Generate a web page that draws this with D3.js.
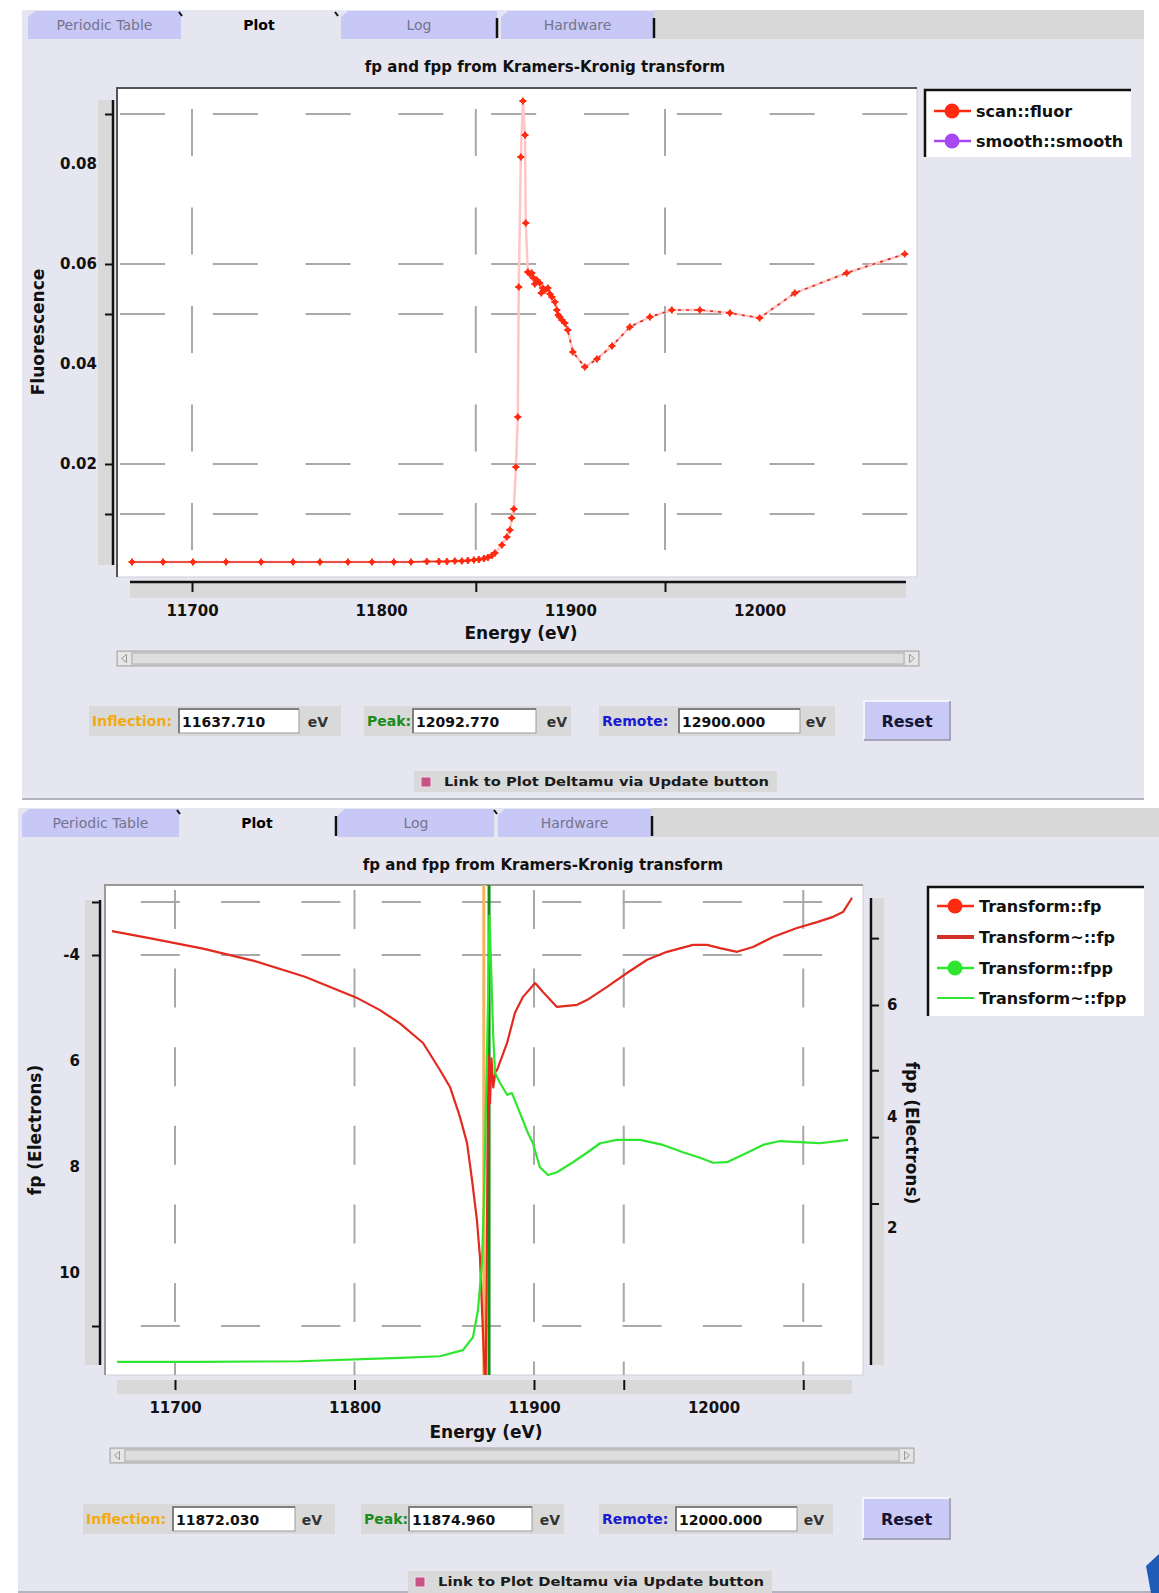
<!DOCTYPE html>
<html><head><meta charset="utf-8">
<script src="https://cdn.jsdelivr.net/npm/d3@7"></script>
<style>
html,body{margin:0;padding:0;background:#fff;}
svg{display:block;}
</style></head><body>
<svg id="c" width="1159" height="1593"></svg>
<script>
// ---------- shared text ----------
const tabNames = ["Periodic Table", "Plot", "Log", "Hardware"];
const plotTitle = "fp and fpp from Kramers-Kronig transform";
const energyTitle = "Energy (eV)";
const checkboxText = "Link to Plot Deltamu via Update button";

// ---------- upper panel: scan::fluor ----------
const scanEnergy = [11668.3, 11684.7, 11700.5, 11718, 11736.5, 11753.4, 11767.6, 11782.4, 11795.1, 11806.7,
  11815.7, 11824.1, 11830.5, 11834.7, 11838.9, 11842.6, 11845.8, 11849, 11851.6, 11854.3,
  11856.4, 11858.5, 11860.1, 11863.8, 11866.4, 11868.0, 11869.0, 11870.1, 11871.2, 11872.2,
  11872.7, 11873.8, 11874.9, 11876.0, 11876.4, 11877.5, 11878.6, 11879.6, 11880.5, 11881.2,
  11882.3, 11883.8, 11884.6, 11885.4, 11886.7, 11888.1, 11889.2, 11890.2, 11891.8, 11892.8,
  11893.6, 11894.4, 11895.5, 11897.0, 11898.6, 11901.3, 11907.6, 11914, 11922, 11931.4,
  11942, 11953.6, 11968.4, 11984.3, 12000, 12018.6, 12046, 12076.7];
const scanFluor = [0.0004, 0.0004, 0.0004, 0.0004, 0.0004, 0.0004, 0.0004, 0.0004, 0.0004, 0.0004,
  0.0004, 0.0005, 0.0005, 0.0005, 0.0006, 0.0006, 0.0007, 0.0008, 0.0009, 0.0011,
  0.0013, 0.0017, 0.0022, 0.0038, 0.0054, 0.0068, 0.0092, 0.0110, 0.0194, 0.0294,
  0.0554, 0.0814, 0.0926, 0.0858, 0.0682, 0.0584, 0.0580, 0.0582, 0.0572, 0.0560,
  0.0568, 0.0562, 0.0542, 0.0552, 0.0548, 0.0552, 0.0540, 0.0534, 0.0524, 0.0508,
  0.0498, 0.0494, 0.0488, 0.0482, 0.0468, 0.0424, 0.0394, 0.0410, 0.0436, 0.0474,
  0.0494, 0.0508, 0.0508, 0.0502, 0.0492, 0.0542, 0.0582, 0.0620];
const fluorTickValues = [0.09, 0.06, 0.05, 0.02, 0.01];
const fluorLabelValues = [0.08, 0.06, 0.04, 0.02];
const upperEnergyTicks = [11700, 11850, 11950];
const energyLabelValues = [11700, 11800, 11900, 12000];
const upperLegend = ["scan::fluor", "smooth::smooth"];
const upperFields = ["11637.710", "12092.770", "12900.000"];

// ---------- lower panel: Kramers-Kronig transform ----------
const fpEnergy = [11664.9, 11687.2, 11715.6, 11744.0, 11772.4, 11800.8, 11814.2, 11825.3, 11838.2, 11847.6,
  11853.2, 11858.8, 11862.7, 11865.5, 11868.2, 11869.9, 11871.0, 11872.0, 11873.0, 11873.6,
  11874.2, 11874.8, 11875.5, 11876.3, 11877.3, 11878.5, 11879.4, 11885.0, 11889.4, 11893.9,
  11900.6, 11905.0, 11912.8, 11924.0, 11929.5, 11940.7, 11951.8, 11963.0, 11974.1, 11988.6,
  11996.4, 12003.6, 12013.1, 12022.0, 12033.1, 12046.5, 12057.7, 12066.6, 12072.1, 12077.2];
const fpValues = [-3.55, -3.69, -3.88, -4.11, -4.41, -4.80, -5.04, -5.29, -5.66, -6.17,
  -6.49, -7.06, -7.55, -8.25, -9.00, -9.70, -10.64, -11.5, -12.3, -10.2,
  -7.2, -5.9, -6.8, -5.95, -6.5, -6.2, -6.17, -5.66, -5.09, -4.79,
  -4.53, -4.70, -4.98, -4.94, -4.85, -4.60, -4.34, -4.09, -3.94, -3.81,
  -3.81, -3.87, -3.94, -3.85, -3.66, -3.49, -3.38, -3.28, -3.19, -2.92];
const fppEnergy = [11667.7, 11713.9, 11769.6, 11825.3, 11847.6, 11860.4, 11866.0, 11868.8, 11871.0, 11872.1,
  11873.3, 11874.4, 11875.2, 11876.0, 11877.2, 11878.3, 11881.1, 11885.0, 11887.7, 11892.2,
  11896.7, 11899.4, 11903.3, 11907.8, 11912.8, 11921.7, 11929.5, 11936.8, 11946.2, 11959.1,
  11971.9, 11983.0, 11992.5, 11999.7, 12007.5, 12018.7, 12027.6, 12037.0, 12048.2, 12059.3, 12074.9];
const fppValues = [-0.40, -0.40, -0.39, -0.33, -0.30, -0.19, 0.04, 0.53, 1.37, 2.50,
  4.30, 6.09, 7.6, 6.8, 5.50, 4.78, 4.60, 4.39, 4.42, 4.06,
  3.70, 3.52, 3.09, 2.95, 3.00, 3.18, 3.35, 3.52, 3.58, 3.58,
  3.49, 3.36, 3.26, 3.17, 3.18, 3.35, 3.49, 3.56, 3.54, 3.52, 3.58];
const fpTickValues = [-3, -4, -11];
const fpLabelValues = [-4, -6, -8, -10];
const fpLabelText = ["-4", "6", "8", "10"];
const fppTickValues = [7.2, 6, 4.83, 3.63, 2.44];
const fppLabelValues = [6, 4, 2];
const lowerEnergyTicks = [11700, 11800, 11900, 11950, 12050];
const lowerLegend = ["Transform::fp", "Transform~::fp", "Transform::fpp", "Transform~::fpp"];
const lowerFields = ["11872.030", "11874.960", "12000.000"];
const lowerMarkers = [11872.03, 11874.96];   // inflection, peak

// ---------- drawing ----------
const FONT = '"DejaVu Sans", "Liberation Sans", sans-serif';
const COL = { panel: "#e6e6f0", tab: "#c8c8f6", strip: "#d9d9d9", tabText: "#74748e",
  red: "#ff2a10", line: "#e22a1e", green: "#2ee62e", purple: "#a648f2" };
const svg = d3.select("#c");

function txt(g, x, y, s, o) {
  o = o || {};
  const t = g.append("text").attr("x", x).attr("y", y).text(s)
    .attr("font-family", FONT).attr("font-size", o.size || 14)
    .attr("font-weight", o.weight || "bold").attr("fill", o.fill || "#111")
    .attr("text-anchor", o.anchor || "start");
  if (o.len) t.attr("textLength", o.len).attr("lengthAdjust", "spacingAndGlyphs");
  if (o.rot) t.attr("transform", `rotate(${o.rot},${x},${y})`).attr("dominant-baseline", "central");
  return t;
}

function panelFrame(x0, x1, y0, y1, tabs, seps, marks) {
  const g = svg.append("g");
  g.append("rect").attr("x", x0).attr("y", y0).attr("width", x1 - x0).attr("height", y1 - y0).attr("fill", COL.panel);
  const tabBottom = y0 + 29;
  g.append("rect").attr("x", tabs[3][1]).attr("y", y0).attr("width", x1 - tabs[3][1]).attr("height", 29).attr("fill", "#d8d8d8");
  tabs.forEach((t, i) => {
    const sel = i === 1;
    g.append("path")
      .attr("d", `M${t[0]},${tabBottom}V${y0 + 7}L${t[0] + 7},${y0 + 1}H${t[1]}V${tabBottom}Z`)
      .attr("fill", sel ? COL.panel : COL.tab);
    txt(g, (t[0] + t[1]) / 2, y0 + 20, tabNames[i], {
      size: 14, weight: sel ? "bold" : "normal", fill: sel ? "#000" : COL.tabText, anchor: "middle" });
  });
  seps.forEach(x => g.append("line").attr("x1", x).attr("x2", x).attr("y1", y0 + 8).attr("y2", tabBottom - 1)
    .attr("stroke", "#111").attr("stroke-width", 2.5));
  marks.forEach(x => g.append("line").attr("x1", x).attr("x2", x + 3).attr("y1", y0 + 2).attr("y2", y0 + 6)
    .attr("stroke", "#111").attr("stroke-width", 2));
  g.append("line").attr("x1", x0).attr("x2", x1).attr("y1", y1 - 1).attr("y2", y1 - 1).attr("stroke", "#b4b4c0").attr("stroke-width", 2);
  return g;
}

function scrollbar(x0, x1, y0) {
  const g = svg.append("g");
  g.append("rect").attr("x", x0).attr("y", y0).attr("width", x1 - x0).attr("height", 15)
    .attr("fill", "#d2d2d2").attr("stroke", "#a4a4a4");
  g.append("rect").attr("x", x0 + 15).attr("y", y0 + 2).attr("width", x1 - x0 - 30).attr("height", 11)
    .attr("fill", "#dedede").attr("stroke", "#b0b0b0");
  [[x0 + 1, 1], [x1 - 14, -1]].forEach(([bx, dir]) => {
    g.append("rect").attr("x", bx).attr("y", y0 + 1).attr("width", 13).attr("height", 13).attr("fill", "#e6e6e6");
    const cx = bx + 6.5, cy = y0 + 7.5;
    g.append("path").attr("d", `M${cx - 3 * dir},${cy}L${cx + 2 * dir},${cy - 4}V${cy + 4}Z`)
      .attr("fill", "none").attr("stroke", "#9a9a9a");
  });
}

function controls(yc, boxes, reset, chk, values) {
  const g = svg.append("g");
  const labels = [["Inflection:", "#f2aa10"], ["Peak:", "#1b8c1b"], ["Remote:", "#1a1ad2"]];
  boxes.forEach((b, i) => {
    g.append("rect").attr("x", b[0]).attr("y", yc - 15).attr("width", b[1] - b[0]).attr("height", 30).attr("fill", "#d9d9d9");
    txt(g, b[0] + 3, yc + 5, labels[i][0], { size: 14, fill: labels[i][1] });
    g.append("rect").attr("x", b[2]).attr("y", yc - 12).attr("width", b[3] - b[2]).attr("height", 24)
      .attr("fill", "#fff").attr("stroke", "#9c9c9c");
    g.append("path").attr("d", `M${b[2]},${yc + 12}V${yc - 12}H${b[3]}`).attr("fill", "none").attr("stroke", "#6a6a6a").attr("stroke-width", 1.5);
    txt(g, b[2] + 3, yc + 6, values[i], { size: 14, fill: "#111" });
    txt(g, b[4], yc + 6, "eV", { size: 14, fill: "#333", anchor: "middle" });
  });
  g.append("rect").attr("x", reset[0]).attr("y", reset[2]).attr("width", reset[1] - reset[0]).attr("height", reset[3] - reset[2])
    .attr("fill", "#c9c9f5").attr("stroke", "#f4f4ff").attr("stroke-width", 2);
  g.append("path").attr("d", `M${reset[0]},${reset[3]}H${reset[1]}V${reset[2]}`).attr("fill", "none").attr("stroke", "#8a8aa0").attr("stroke-width", 1.5);
  txt(g, (reset[0] + reset[1]) / 2, (reset[2] + reset[3]) / 2 + 6, "Reset", { size: 16, fill: "#141438", anchor: "middle" });
  g.append("rect").attr("x", chk[0]).attr("y", chk[2]).attr("width", chk[1] - chk[0]).attr("height", chk[3] - chk[2]).attr("fill", "#d9d9d9");
  g.append("rect").attr("x", chk[0] + 7).attr("y", chk[2] + 6).attr("width", 10).attr("height", 10)
    .attr("fill", "#c65286").attr("stroke", "#f0e0ea");
  txt(g, chk[0] + 30, chk[2] + 15, checkboxText, { size: 13, fill: "#1a1a1a", len: chk[1] - chk[0] - 38 });
}

function legend(x0, x1, y0, y1, entries) {
  const g = svg.append("g");
  g.append("rect").attr("x", x0).attr("y", y0).attr("width", x1 - x0).attr("height", y1 - y0).attr("fill", "#fff");
  g.append("path").attr("d", `M${x0},${y1}V${y0}H${x1}`).attr("fill", "none").attr("stroke", "#111").attr("stroke-width", 2.5);
  entries.forEach(e => {
    g.append("line").attr("x1", x0 + 9).attr("x2", x0 + 46).attr("y1", e.y).attr("y2", e.y)
      .attr("stroke", e.color).attr("stroke-width", e.w || 2.5);
    if (e.dot) g.append("circle").attr("cx", x0 + 27).attr("cy", e.y).attr("r", 7.5).attr("fill", e.color);
    txt(g, x0 + 51, e.y + 6, e.label, { size: 16, fill: "#111" });
  });
}

function styleAxis(sel, size) {
  sel.select(".domain").remove();
  sel.selectAll(".tick line").attr("stroke", "#111").attr("stroke-width", 2);
  sel.selectAll(".tick text").attr("font-family", FONT).attr("font-size", size || 15)
    .attr("font-weight", "bold").attr("fill", "#111");
}

// ======================= upper panel =======================
panelFrame(22, 1144, 10, 800, [[28, 181], [181, 337], [341, 497], [501, 654]], [497, 654], [179, 335]);
txt(svg, 545, 72, plotTitle, { size: 15, anchor: "middle" });

const xU = d3.scaleLinear().domain([11700, 11950]).range([192, 665]);
const yU = d3.scaleLinear().domain([0.02, 0.06]).range([464, 264]);
const U = { l: 117, r: 917, t: 88, b: 577 };

svg.append("clipPath").attr("id", "clipU").append("rect")
  .attr("x", U.l).attr("y", U.t).attr("width", U.r - U.l).attr("height", U.b - U.t);
svg.append("rect").attr("x", U.l).attr("y", U.t).attr("width", U.r - U.l).attr("height", U.b - U.t)
  .attr("fill", "#fff").attr("stroke", "#cfcfd6");
svg.append("path").attr("d", `M${U.l},${U.b}V${U.t}H${U.r}`).attr("fill", "none").attr("stroke", "#555").attr("stroke-width", 2);

const gridU = svg.append("g").attr("clip-path", "url(#clipU)");
gridU.selectAll("line.h").data(fluorTickValues).join("line")
  .attr("x1", 120).attr("x2", U.r).attr("y1", d => yU(d)).attr("y2", d => yU(d))
  .attr("stroke", "#a9a9a9").attr("stroke-width", 2).attr("stroke-dasharray", "45,47.8");
gridU.selectAll("line.v").data(upperEnergyTicks).join("line")
  .attr("x1", d => xU(d)).attr("x2", d => xU(d)).attr("y1", 109).attr("y2", U.b)
  .attr("stroke", "#a9a9a9").attr("stroke-width", 2).attr("stroke-dasharray", "47,51.5");

// y axis
svg.append("rect").attr("x", 98).attr("y", 100).attr("width", 14).attr("height", 465).attr("fill", COL.strip);
svg.append("line").attr("x1", 113).attr("x2", 113).attr("y1", 100).attr("y2", 565).attr("stroke", "#111").attr("stroke-width", 2.5);
svg.append("g").attr("transform", "translate(113,0)")
  .call(d3.axisLeft(yU).tickValues(fluorTickValues).tickSize(8).tickFormat(""))
  .call(styleAxis);
svg.append("g").attr("transform", "translate(113,0)")
  .call(d3.axisLeft(yU).tickValues(fluorLabelValues).tickSize(0).tickPadding(16).tickFormat(d3.format(".2f")))
  .call(styleAxis);
txt(svg, 38, 332, "Fluorescence", { size: 17, anchor: "middle", rot: -90 });

// x axis
svg.append("rect").attr("x", 130).attr("y", 583).attr("width", 776).attr("height", 15).attr("fill", COL.strip);
svg.append("line").attr("x1", 130).attr("x2", 906).attr("y1", 582).attr("y2", 582).attr("stroke", "#111").attr("stroke-width", 2.5);
svg.append("g").attr("transform", "translate(0,582)")
  .call(d3.axisBottom(xU).tickValues(upperEnergyTicks).tickSize(10).tickFormat(""))
  .call(styleAxis);
svg.append("g").attr("transform", "translate(0,582)")
  .call(d3.axisBottom(xU).tickValues(energyLabelValues).tickSize(0).tickPadding(23).tickFormat(d3.format("d")))
  .call(styleAxis);
txt(svg, 521, 639, energyTitle, { size: 17, anchor: "middle" });

// data
const scanPts = scanEnergy.map((e, i) => [e, scanFluor[i]]);
const lineU = d3.line().x(d => xU(d[0])).y(d => yU(d[1]));
const dataU = svg.append("g").attr("clip-path", "url(#clipU)");
dataU.append("path").attr("d", lineU(scanPts)).attr("fill", "none").attr("stroke", "#ffc6c6").attr("stroke-width", 2.5);
dataU.append("path").attr("d", lineU(scanPts.filter(d => d[0] <= 11860))).attr("fill", "none")
  .attr("stroke", COL.line).attr("stroke-width", 1.6);
dataU.append("path").attr("d", lineU(scanPts.filter(d => d[0] >= 11877))).attr("fill", "none")
  .attr("stroke", "#d8281c").attr("stroke-width", 1.6).attr("stroke-dasharray", "3,5");
const mk = dataU.selectAll("g.pt").data(scanPts).join("g")
  .attr("transform", d => `translate(${xU(d[0])},${yU(d[1])})`);
mk.append("path").attr("d", "M-3.5,0H3.5M0,-3.5V3.5").attr("stroke", COL.red).attr("stroke-width", 2);
mk.append("rect").attr("x", -2).attr("y", -2).attr("width", 4).attr("height", 4).attr("fill", COL.red);

legend(925, 1131, 90, 157, [
  { y: 111, color: COL.red, dot: true, label: upperLegend[0] },
  { y: 141, color: COL.purple, dot: true, label: upperLegend[1] }]);

scrollbar(117, 919, 651);
controls(721,
  [[89, 341, 179, 299, 318], [364, 571, 413, 536, 557], [599, 835, 679, 800, 816]],
  [864, 950, 701, 740], [414, 777, 771, 792], upperFields);

// ======================= lower panel =======================
panelFrame(18, 1159, 808, 1593, [[22, 179], [179, 335], [338, 494], [498, 651]], [336, 652], [177, 494]);
txt(svg, 543, 870, plotTitle, { size: 15, anchor: "middle" });

const xL = d3.scaleLinear().domain([11700, 11900]).range([175, 534]);
const yFp = d3.scaleLinear().domain([-4, -10]).range([955, 1273]);
const yFpp = d3.scaleLinear().domain([6, 2]).range([1005, 1228]);
const L = { l: 105, r: 863, t: 885, b: 1375 };

svg.append("clipPath").attr("id", "clipL").append("rect")
  .attr("x", L.l).attr("y", L.t).attr("width", L.r - L.l).attr("height", L.b - L.t);
svg.append("rect").attr("x", L.l).attr("y", L.t).attr("width", L.r - L.l).attr("height", L.b - L.t)
  .attr("fill", "#fff").attr("stroke", "#cfcfd6");
svg.append("path").attr("d", `M${L.l},${L.b}V${L.t}H${L.r}`).attr("fill", "none").attr("stroke", "#9a9a9a").attr("stroke-width", 2);

const gridL = svg.append("g").attr("clip-path", "url(#clipL)");
gridL.selectAll("line.h").data(fpTickValues).join("line")
  .attr("x1", 140.8).attr("x2", L.r).attr("y1", d => yFp(d)).attr("y2", d => yFp(d))
  .attr("stroke", "#a9a9a9").attr("stroke-width", 2).attr("stroke-dasharray", "39,41.3");
gridL.selectAll("line.v").data(lowerEnergyTicks).join("line")
  .attr("x1", d => xL(d)).attr("x2", d => xL(d)).attr("y1", 890).attr("y2", L.b)
  .attr("stroke", "#a9a9a9").attr("stroke-width", 2).attr("stroke-dasharray", "39,39.6");

// left axis (fp)
svg.append("rect").attr("x", 85).attr("y", 900).attr("width", 13).attr("height", 465).attr("fill", COL.strip);
svg.append("line").attr("x1", 100).attr("x2", 100).attr("y1", 900).attr("y2", 1365).attr("stroke", "#111").attr("stroke-width", 2.5);
svg.append("g").attr("transform", "translate(100,0)")
  .call(d3.axisLeft(yFp).tickValues(fpTickValues).tickSize(8).tickFormat(""))
  .call(styleAxis);
svg.append("g").attr("transform", "translate(100,0)")
  .call(d3.axisLeft(yFp).tickValues(fpLabelValues).tickSize(0).tickPadding(20)
    .tickFormat((d, i) => fpLabelText[i]))
  .call(styleAxis);
txt(svg, 35, 1130, "fp (Electrons)", { size: 17, anchor: "middle", rot: -90 });

// right axis (fpp)
svg.append("rect").attr("x", 873).attr("y", 898).attr("width", 11).attr("height", 467).attr("fill", COL.strip);
svg.append("line").attr("x1", 871).attr("x2", 871).attr("y1", 898).attr("y2", 1365).attr("stroke", "#111").attr("stroke-width", 2.5);
svg.append("g").attr("transform", "translate(871,0)")
  .call(d3.axisRight(yFpp).tickValues(fppTickValues).tickSize(8).tickFormat(""))
  .call(styleAxis);
svg.append("g").attr("transform", "translate(871,0)")
  .call(d3.axisRight(yFpp).tickValues(fppLabelValues).tickSize(0).tickPadding(16).tickFormat(d3.format("d")))
  .call(styleAxis);
txt(svg, 912, 1133, "fpp (Electrons)", { size: 17, anchor: "middle", rot: 90 });

// x axis
svg.append("rect").attr("x", 117).attr("y", 1380).attr("width", 735).attr("height", 14).attr("fill", COL.strip);
svg.append("g").attr("transform", "translate(0,1380)")
  .call(d3.axisBottom(xL).tickValues(lowerEnergyTicks).tickSize(10).tickFormat(""))
  .call(styleAxis);
svg.append("g").attr("transform", "translate(0,1380)")
  .call(d3.axisBottom(xL).tickValues(energyLabelValues).tickSize(0).tickPadding(22).tickFormat(d3.format("d")))
  .call(styleAxis);
txt(svg, 486, 1438, energyTitle, { size: 17, anchor: "middle" });

// edge markers and transform curves
const dataL = svg.append("g").attr("clip-path", "url(#clipL)");
dataL.selectAll("line.mark").data(lowerMarkers).join("line")
  .attr("x1", d => xL(d)).attr("x2", d => xL(d)).attr("y1", L.t).attr("y2", L.b)
  .attr("stroke", (d, i) => i === 0 ? "#f3b45c" : "#138c13").attr("stroke-width", 3);
const fpPts = fpEnergy.map((e, i) => [e, fpValues[i]]);
const fppPts = fppEnergy.map((e, i) => [e, fppValues[i]]);
dataL.append("path").attr("d", d3.line().x(d => xL(d[0])).y(d => yFp(d[1]))(fpPts))
  .attr("fill", "none").attr("stroke", COL.line).attr("stroke-width", 2.2).attr("stroke-linejoin", "round");
dataL.append("path").attr("d", d3.line().x(d => xL(d[0])).y(d => yFpp(d[1]))(fppPts))
  .attr("fill", "none").attr("stroke", COL.green).attr("stroke-width", 2.2).attr("stroke-linejoin", "round");

legend(928, 1144, 887, 1016, [
  { y: 906, color: COL.red, dot: true, label: lowerLegend[0] },
  { y: 937, color: "#d4302a", w: 4, label: lowerLegend[1] },
  { y: 968, color: COL.green, dot: true, label: lowerLegend[2] },
  { y: 998, color: COL.green, w: 2, label: lowerLegend[3] }]);

scrollbar(110, 914, 1448);
controls(1519,
  [[83, 335, 173, 295, 312], [361, 564, 409, 532, 550], [599, 833, 676, 797, 814]],
  [863, 950, 1498, 1539], [408, 772, 1571, 1593], lowerFields);

// pointer in the corner
svg.append("path").attr("d", "M1146,1566L1159,1554V1593H1151Z").attr("fill", "#1f5cb8");
</script>
</body></html>
